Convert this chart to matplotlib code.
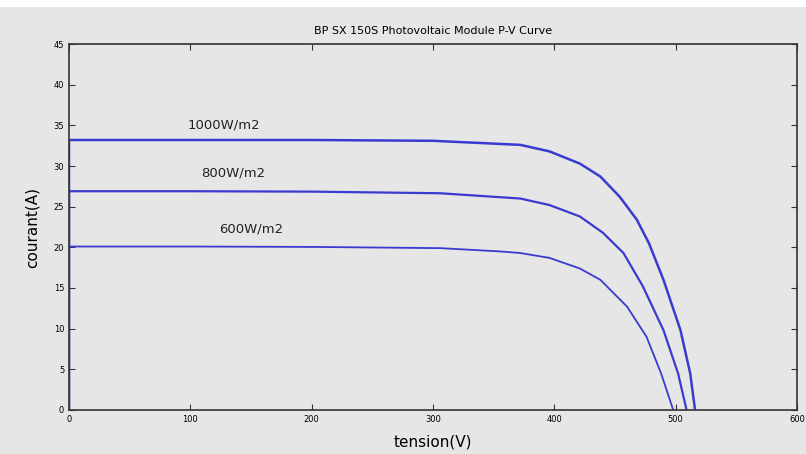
import matplotlib.pyplot as plt
from matplotlib.patches import Rectangle

# I-V curves (tension in V, courant in A)
v_1000 = [0, 0, 100, 200, 300, 372, 396, 421, 438, 454, 468, 478, 490, 504, 512, 516]
i_1000 = [0, 33.2, 33.2, 33.2, 33.1, 32.6, 31.8, 30.3, 28.7, 26.2, 23.4, 20.5, 16.0, 9.8, 4.5, 0]

v_800 = [0, 0, 100, 200, 306, 372, 396, 421, 440, 457, 473, 490, 502, 509]
i_800 = [0, 26.9, 26.9, 26.85, 26.65, 26.0, 25.2, 23.8, 21.8, 19.3, 15.2, 9.8, 4.5, 0]

v_600 = [0, 0, 100, 200, 306, 355, 372, 396, 421, 438, 460, 476, 488, 498]
i_600 = [0, 20.1, 20.1, 20.05, 19.9, 19.5, 19.3, 18.7, 17.4, 16.0, 12.7, 9.0, 4.5, 0]

labels = ["1000W/m2", "800W/m2", "600W/m2"]
label_pos = [(128, 35.0), (135, 29.1), (150, 22.2)]

bg = "#e6e6e6"
fig = plt.figure(figsize=(8.06, 4.54), dpi=100, facecolor=bg)
# white strip along the top edge, as in the screenshot
fig.patches.append(Rectangle((0, 0.985), 1, 0.015, transform=fig.transFigure,
                             facecolor="white", edgecolor="none"))
ax = fig.add_axes([0.0856, 0.097, 0.9032, 0.806])
ax.set_facecolor(bg)

blue = "#3a3ad0"
ax.plot(v_1000, i_1000, color=blue, lw=1.8)
ax.plot(v_800, i_800, color=blue, lw=1.6)
ax.plot(v_600, i_600, color=blue, lw=1.3)

for txt, (x, y) in zip(labels, label_pos):
    ax.text(x, y, txt, fontsize=9.5, color="#222222", ha="center", va="center")

ax.set_xlim(0, 600)
ax.set_ylim(0, 45)
ax.set_xticks(range(0, 601, 100))
ax.set_yticks(range(0, 46, 5))
ax.tick_params(direction="in", top=True, right=True, labelsize=6, length=4, color="#333333")
for s in ax.spines.values():
    s.set_color("#333333")
    s.set_linewidth(1.2)

ax.set_title("BP SX 150S Photovoltaic Module P-V Curve", fontsize=8, pad=7)
ax.set_xlabel("tension(V)", fontsize=11, labelpad=8)
ax.set_ylabel("courant(A)", fontsize=11, labelpad=10)

fig.savefig("out.png", dpi=100, facecolor=bg)
